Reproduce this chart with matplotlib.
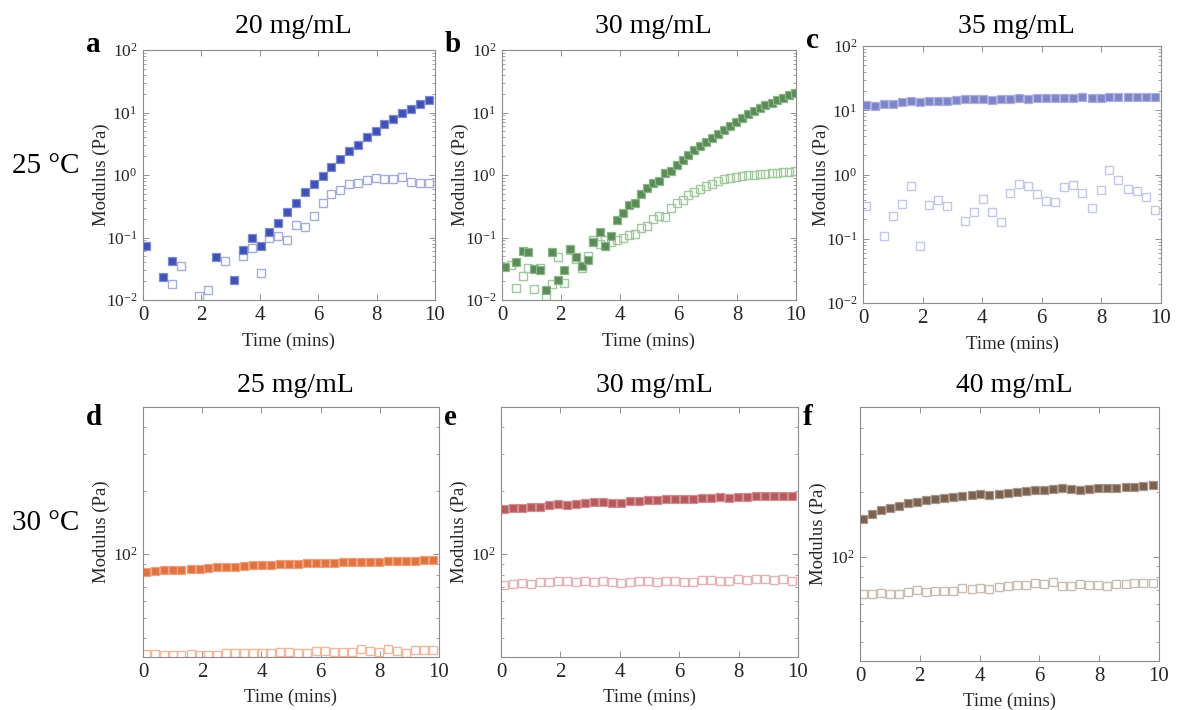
import numpy as np
import matplotlib
matplotlib.use("Agg")
import matplotlib.pyplot as plt
from matplotlib.ticker import NullFormatter

plt.rcParams['font.family'] = ['Liberation Serif', 'DejaVu Serif']
plt.rcParams['mathtext.fontset'] = 'stix'
plt.rcParams['axes.unicode_minus'] = False

nan = np.nan

# sampling times (mins)
t_slow = [0.09, 0.39, 0.70, 1.00, 1.30, 1.61, 1.91, 2.21, 2.51, 2.82, 3.12,
          3.42, 3.73, 4.03, 4.33, 4.64, 4.94, 5.24, 5.54, 5.85, 6.15, 6.45,
          6.76, 7.06, 7.36, 7.67, 7.97, 8.27, 8.57, 8.88, 9.18, 9.48, 9.79]
t_fast = [0.09, 0.29, 0.49, 0.70, 0.90, 1.10, 1.30, 1.50, 1.70, 1.90, 2.11,
          2.31, 2.51, 2.71, 2.91, 3.11, 3.32, 3.52, 3.72, 3.92, 4.12, 4.32,
          4.53, 4.73, 4.93, 5.13, 5.33, 5.53, 5.74, 5.94, 6.14, 6.34, 6.54,
          6.75, 6.95, 7.15, 7.35, 7.55, 7.75, 7.96, 8.16, 8.36, 8.56, 8.76,
          8.96, 9.17, 9.37, 9.57, 9.77, 9.97]

# a: 20 mg/mL, 25 C
a_storage = [0.074, nan, 0.023, 0.042, nan, nan, nan, nan, 0.049, nan, 0.021,
             0.062, 0.097, 0.074, 0.122, 0.17, 0.256, 0.36, 0.53, 0.73, 0.98,
             1.35, 1.8, 2.4, 3.0, 4.0, 5.1, 6.5, 8.0, 9.8, 11.5, 13.5, 16.0]
a_loss = [nan, nan, nan, 0.018, 0.035, nan, 0.0116, 0.0146, nan, 0.042, nan,
          0.05, 0.069, 0.027, 0.099, 0.107, 0.091, 0.16, 0.149, 0.22, 0.36,
          0.49, 0.58, 0.72, 0.75, 0.83, 0.88, 0.85, 0.86, 0.93, 0.76, 0.74, 0.74]

# b: 30 mg/mL, 25 C
b_storage = [0.034, nan, 0.040, 0.060, 0.058, 0.031, 0.030, 0.0143, 0.058,
             0.021, 0.030, 0.065, 0.049, 0.035, 0.043, 0.085, 0.122, 0.074,
             0.104, 0.19, 0.25, 0.33, 0.35, 0.49, 0.63, 0.75, 0.81, 1.06,
             1.17, 1.45, 1.72, 2.06, 2.48, 2.9, 3.4, 3.95, 4.6, 5.3, 6.1,
             7.05, 8.1, 9.3, 10.5, 11.8, 13.1, 14.4, 15.8, 17.3, 18.8, 20.4]
b_loss = [nan, 0.036, 0.0156, 0.024, 0.032, 0.0152, 0.032, 0.0116, 0.018,
          0.048, 0.019, 0.062, 0.045, 0.033, 0.051, 0.091, 0.078, 0.091,
          0.085, 0.09, 0.10, 0.11, 0.115, 0.14, 0.155, 0.20, 0.22, 0.21,
          0.30, 0.36, 0.40, 0.47, 0.53, 0.60, 0.67, 0.73, 0.80, 0.85, 0.90,
          0.94, 0.97, 0.99, 1.0, 1.02, 1.03, 1.06, 1.08, 1.10, 1.12, 1.15]

# c: 35 mg/mL, 25 C
c_storage = [12.1, 11.8, 12.4, 12.7, 13.3, 13.8, 13.5, 13.8, 14.1, 14.0, 14.5,
             14.8, 15.0, 15.0, 14.6, 15.0, 15.2, 15.4, 15.0, 15.4, 15.7, 15.6,
             15.7, 15.4, 15.9, 15.7, 15.7, 15.9, 16.1, 16.1, 16.1, 15.9, 16.1]
c_loss = [0.32, nan, 0.109, 0.23, 0.35, 0.67, 0.076, 0.34, 0.40, 0.32, nan,
          0.19, 0.26, 0.41, 0.26, 0.185, 0.52, 0.70, 0.67, 0.50, 0.38, 0.37,
          0.63, 0.69, 0.51, 0.30, 0.58, 1.17, 0.81, 0.60, 0.56, 0.45, 0.28]

# d: 25 mg/mL, 30 C
d_storage = [82.4, 83.3, 84.2, 84.5, 84.5, 85.5, 85.5, 86.1, 86.7, 87.4, 87.4,
             88.0, 88.6, 88.6, 89.3, 90.3, 90.0, 90.3, 90.6, 90.6, 91.3, 91.3,
             91.6, 91.6, 92.0, 92.0, 92.3, 92.6, 92.6, 93.0, 93.3, 93.6, 93.6]
d_loss = [33.6, 33.6, 33.4, 33.2, 33.1, 33.6, 33.4, 33.1, 33.4, 33.8, 33.8,
          33.8, 34.1, 33.8, 34.1, 34.4, 34.4, 34.1, 34.1, 34.6, 34.6, 34.4,
          34.4, 34.5, 35.4, 34.6, 34.4, 35.4, 34.6, 34.1, 34.9, 34.9, 34.9]

# e: 30 mg/mL, 30 C
e_storage = [163.1, 164.9, 166.1, 166.7, 167.9, 170.4, 172.2, 171.0, 173.5,
             175.4, 176.0, 176.7, 175.4, 175.4, 178.6, 178.6, 180.6, 181.3,
             182.6, 183.3, 182.6, 183.3, 183.9, 183.9, 186.6, 185.3, 186.0,
             187.3, 188.0, 188.0, 188.7, 188.0, 188.7]
e_loss = [71.8, 72.5, 73.1, 72.5, 73.9, 73.9, 74.4, 74.4, 73.9, 74.4, 73.9,
          74.4, 73.9, 73.1, 73.9, 74.7, 74.7, 74.1, 74.7, 74.7, 73.9, 73.9,
          75.2, 75.2, 74.7, 74.7, 76.6, 75.8, 76.1, 76.1, 75.5, 76.1, 74.7]

# f: 40 mg/mL, 30 C
f_storage = [149.1, 158.4, 164.3, 168.5, 171.5, 177.8, 179.7, 182.9, 184.9,
             188.3, 189.7, 191.0, 194.5, 196.6, 193.1, 196.6, 198.0, 200.1,
             202.3, 203.8, 205.3, 207.5, 208.9, 207.5, 205.3, 207.5, 209.7,
             209.7, 209.7, 211.2, 211.2, 212.8, 215.9]
f_loss = [66.9, 66.9, 67.4, 66.9, 66.9, 68.1, 69.5, 68.6, 69.3, 69.1, 68.8,
          71.1, 70.3, 71.6, 70.3, 71.8, 72.9, 73.4, 73.7, 75.5, 74.7, 75.8,
          72.9, 72.9, 74.2, 73.9, 73.7, 73.1, 74.5, 74.2, 75.0, 75.0, 75.0]

W, H = 1179, 710
fig = plt.figure(figsize=(W / 100, H / 100), dpi=100)


def px_axes(left, top, right, bottom):
    return fig.add_axes([left / W, 1 - bottom / H, (right - left) / W, (bottom - top) / H])


panels = [
    # box, times, G', G'', fill, fill edge, open edge, ylim, title, letter
    ((143, 50, 435, 300), t_slow, a_storage, a_loss, '#3F51B5', '#7F8BD0', '#A3ACDF', (1e-2, 1e2), '20 mg/mL', 'a'),
    ((502, 50, 796, 300), t_fast, b_storage, b_loss, '#5A8C57', '#8DB58A', '#A2C8A0', (1e-2, 1e2), '30 mg/mL', 'b'),
    ((863, 46, 1161, 303), t_slow, c_storage, c_loss, '#7F84C8', '#ABAFDD', '#C3C6EA', (1e-2, 1e2), '35 mg/mL', 'c'),
    ((143, 407, 439, 657), t_slow, d_storage, d_loss, '#E0733F', '#EDA07C', '#F2B79A', (32.5, 500), '25 mg/mL', 'd'),
    ((501, 407, 798, 657), t_slow, e_storage, e_loss, '#B65A5E', '#D08E91', '#E3B2B4', (32.5, 500), '30 mg/mL', 'e'),
    ((860, 407, 1159, 661), t_slow, f_storage, f_loss, '#7A6150', '#A8968A', '#C9BCB2', (32.5, 500), '40 mg/mL', 'f'),
]

for box, t, gs, gl, fc, ec, oc, ylim, title, letter in panels:
    left, top, right, bottom = box
    ax = px_axes(*box)
    ax.plot(t, gl, 's', ms=6, mfc='none', mec=oc, mew=1.0, ls='none')
    ax.plot(t, gs, 's', ms=6, mfc=fc, mec=ec, mew=0.9, ls='none')
    ax.set_yscale('log')
    ax.set_ylim(*ylim)
    ax.set_xlim(0, 10)
    ax.set_xticks([0, 2, 4, 6, 8, 10])
    ax.yaxis.set_minor_formatter(NullFormatter())
    ax.tick_params(which='both', direction='in', top=True, right=True, colors='#808080')
    ax.tick_params(which='major', length=4, width=0.6)
    ax.tick_params(which='minor', length=2, width=0.5)
    ax.tick_params(axis='x', labelsize=15, labelcolor='#262626', pad=4)
    ax.tick_params(axis='y', labelsize=12.5, labelcolor='#262626', pad=4)
    for s in ax.spines.values():
        s.set_color('#8c8c8c')
        s.set_linewidth(0.8)
    ax.set_xlabel('Time (mins)', fontsize=13.5, color='#262626',
                  labelpad=6 if top < 100 else 5)
    ax.set_ylabel('Modulus (Pa)', fontsize=13.5, color='#262626')
    ax.yaxis.set_label_coords(-33 / (right - left), 0.5)

    ty = 33 if top < 100 else 392
    fig.text((left + right) / 2 / W + 0.004, 1 - ty / H, title, fontsize=20,
             ha='center', va='baseline')
    fig.text((left - 57) / W, 1 - (top + 2 if top < 100 else top + 18) / H, letter,
             fontsize=21, fontweight='bold', ha='left', va='baseline')

fig.text(12 / W, 1 - 173 / H, '25 \u00b0C', fontsize=21, ha='left', va='baseline')
fig.text(12 / W, 1 - 530 / H, '30 \u00b0C', fontsize=21, ha='left', va='baseline')

fig.savefig('out.png', dpi=100)
